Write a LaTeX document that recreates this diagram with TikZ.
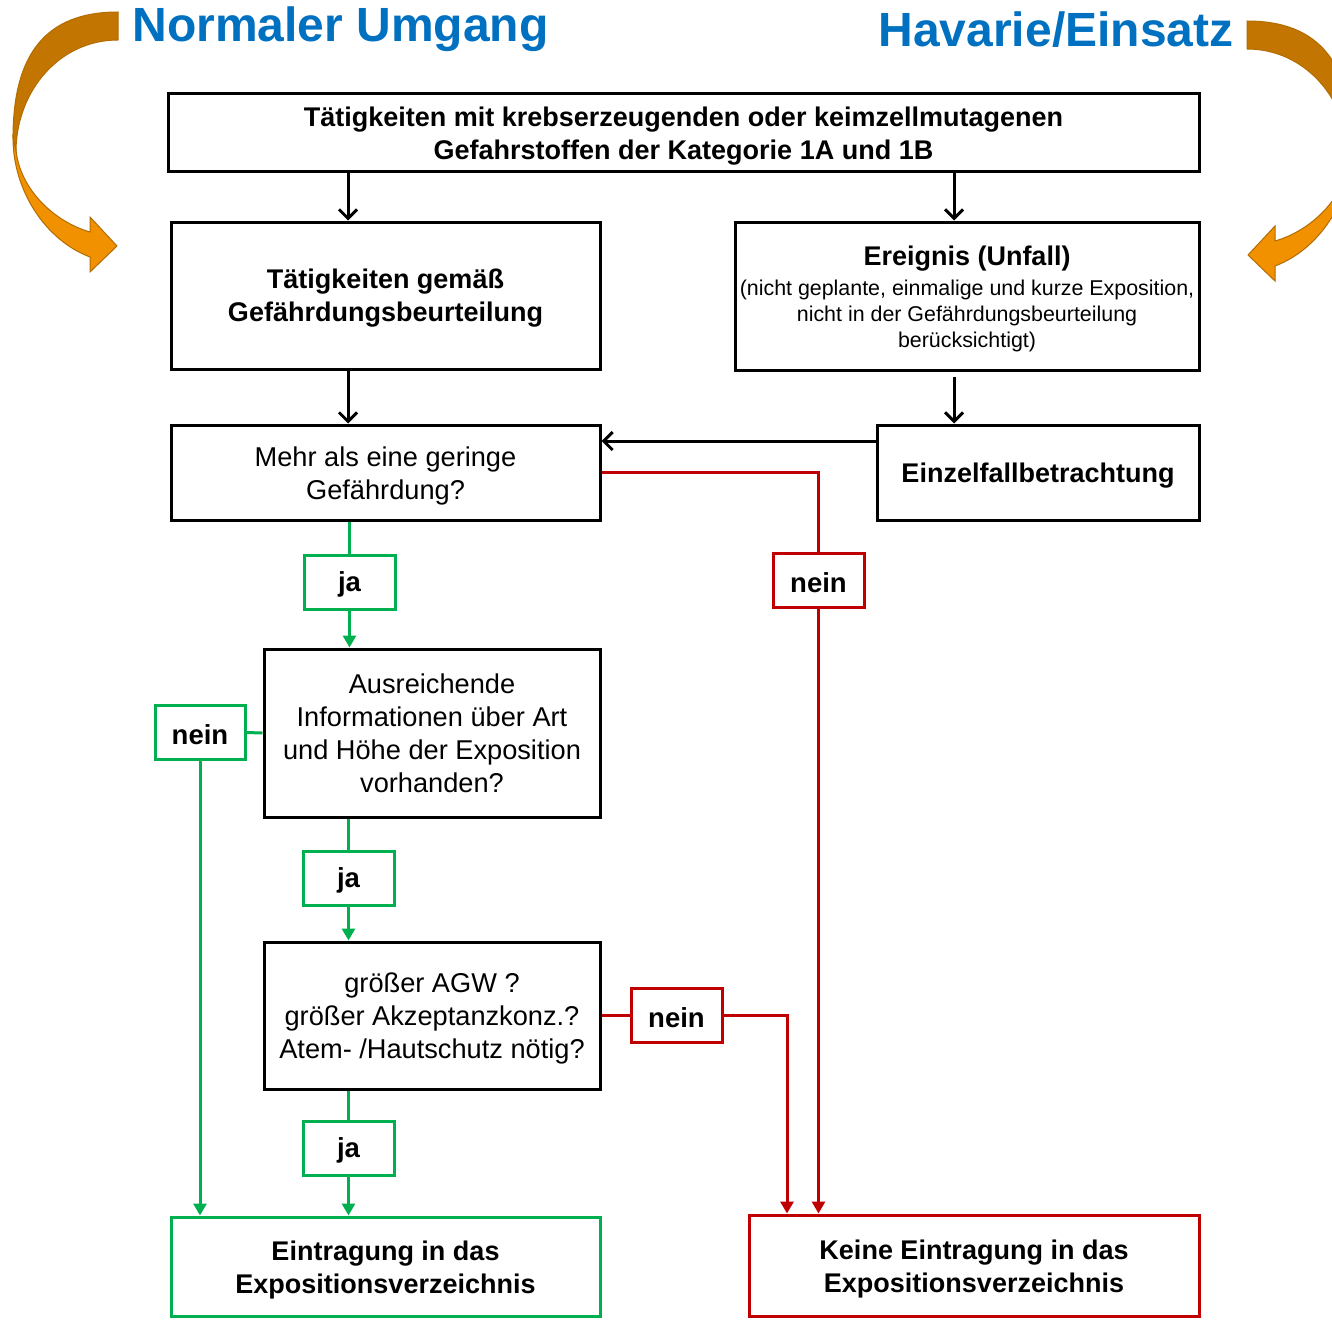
\documentclass[tikz,border=0pt]{standalone}
\usepackage{fontspec}
\setmainfont{Liberation Sans}
\usetikzlibrary{arrows.meta}
\definecolor{tgreen}{HTML}{00B050}
\definecolor{tred}{HTML}{C00000}
\definecolor{tblue}{HTML}{0070C0}
\definecolor{odark}{HTML}{C27500}
\definecolor{olight}{HTML}{F29100}
\definecolor{oline}{HTML}{B36C00}
\newcommand\orangearrowshape{%
    \filldraw[fill=olight, draw=oline, line width=1pt]
      (13,138) .. controls (13,190) and (45,240) .. (90,257) -- (90,272) -- (117,246) -- (90,217) -- (90,232)
      .. controls (55,222) and (20,190) .. (16,150) -- cycle;
    \filldraw[fill=odark, draw=oline, line width=1pt]
      (118,12) -- (118,40) .. controls (60,40) and (17,90) .. (16,150) -- (13,138)
      .. controls (13,55) and (45,12) .. (118,12) -- cycle;
}
% lower content by #1 without changing the reported size
\newcommand\dn[3]{\raisebox{-#1}[\height][\depth]{\parbox{#2}{\centering #3}}}
\tikzset{
  box/.style={draw, line width=3pt, inner sep=0pt, align=center, anchor=center},
  bt/.style={font=\fontsize{27}{33}\selectfont\bfseries},
  rt/.style={font=\fontsize{27.2}{33}\selectfont},
  jabox/.style={box, draw=tgreen, minimum width=91pt, minimum height=54pt, font=\fontsize{27.5}{30}\selectfont\bfseries},
  neinbox/.style={box, draw=tred, minimum width=91pt, minimum height=54pt, font=\fontsize{27.5}{30}\selectfont\bfseries},
  ttl/.style={text=tblue, font=\fontsize{48}{50}\selectfont\bfseries, inner sep=0pt, anchor=base},
  blk/.style={line width=3pt, -{Straight Barb[length=9pt,width=18pt]}},
  gln/.style={line width=3pt, draw=tgreen},
  gar/.style={gln, -{Triangle[length=12pt,width=13pt]}},
  rln/.style={line width=3pt, draw=tred},
  rar/.style={rln, -{Triangle[length=12pt,width=13pt]}}
}
\begin{document}
\begin{tikzpicture}[x=1pt,y=-1pt]
\useasboundingbox (0,0) rectangle (1332,1319);
\clip (0,0) rectangle (1332,1319);
\fill[white] (0,0) rectangle (1332,1319);

% curved arrows
\begin{scope}
\orangearrowshape
\end{scope}
\begin{scope}[shift={(1365,9)}, xscale=-1]
\orangearrowshape
\end{scope}

% titles
\node[ttl] (t1) at (340.5,42) {Normaler Umgang};
\node[ttl] (t2) at (1056,47) {Havarie/Einsatz};

% x-positions
\coordinate (xL) at (348,0);
\coordinate (xR) at (954,0);
\coordinate (xM) at (787,0);
\coordinate (yA) at (0,441);

% boxes
\node[box, bt, minimum width=1031pt, minimum height=77pt] (top) at (683.5,132.5)
  {\dn{4pt}{1000pt}{Tätigkeiten mit krebserzeugenden oder keimzellmutagenen\\Gefahrstoffen der Kategorie 1A und 1B}};
\node[box, bt, minimum width=429pt, minimum height=147pt] (g) at (385.5,295.5)
  {\dn{3pt}{420pt}{Tätigkeiten gemäß\\Gefährdungsbeurteilung}};
\node[box, minimum width=464pt, minimum height=148pt, font=\fontsize{21.4}{26}\selectfont] (ereig) at (967,296)
  {\dn{3pt}{460pt}{{\fontsize{27}{30}\selectfont\bfseries Ereignis (Unfall)}\\[4pt](nicht geplante, einmalige und kurze Exposition,\\nicht in der Gefährdungsbeurteilung\\berücksichtigt)}};
\node[box, rt, minimum width=429pt, minimum height=95pt] (mehr) at (385.5,472.5)
  {\dn{3pt}{420pt}{Mehr als eine geringe\\Gefährdung?}};
\node[box, bt, minimum width=322pt, minimum height=95pt] (einz) at (1038,472.5)
  {\dn{3pt}{310pt}{Einzelfallbetrachtung}};
\node[jabox] (ja1) at (349.5,582) {\dn{2pt}{80pt}{ja}};
\node[neinbox] (nein1) at (818.5,580.5) {\dn{2pt}{80pt}{nein}};
\node[box, rt, minimum width=336pt, minimum height=168pt] (ausr) at (432,733)
  {\dn{0pt}{330pt}{Ausreichende\\Informationen über Art\\und Höhe der Exposition\\vorhanden?}};
\node[jabox, minimum width=90pt] (nein2) at (200,732.5) {\dn{2pt}{80pt}{nein}};
\node[jabox] (ja2) at (348.5,878) {\dn{2pt}{80pt}{ja}};
\node[box, rt, minimum width=336pt, minimum height=147pt] (gr) at (432,1015.5)
  {\dn{3pt}{330pt}{größer AGW ?\\größer Akzeptanzkonz.?\\Atem- /Hautschutz nötig?}};
\node[neinbox] (nein3) at (676.5,1015.5) {\dn{2pt}{80pt}{nein}};
\node[jabox] (ja3) at (348.5,1148.5) {\dn{2pt}{80pt}{ja}};
\node[box, bt, draw=tgreen, minimum width=429pt, minimum height=99pt] (eintr) at (385.5,1266.5)
  {\dn{4pt}{420pt}{Eintragung in das\\Expositionsverzeichnis}};
\node[box, bt, draw=tred, minimum width=450pt, minimum height=101pt] (keine) at (974,1265.5)
  {\dn{4pt}{440pt}{Keine Eintragung in das\\Expositionsverzeichnis}};

% black connectors
\draw[blk] (top.south -| xL) -- (g.north -| xL);
\draw[blk] (top.south -| xR) -- (ereig.north -| xR);
\draw[blk] (g.south -| xL) -- (mehr.north -| xL);
\draw[blk, shorten <=5pt] (ereig.south -| xR) -- (einz.north -| xR);
\draw[blk] (einz.west |- yA) -- (mehr.east |- yA);

% red connectors
\draw[rln] (mehr.east) -| (nein1.north);
\draw[rar] (nein1.south) -- (keine.north -| nein1.south);
\draw[rln] (gr.east) -- (nein3.west);
\draw[rar] (nein3.east) -| (keine.north -| xM);

% green connectors
\draw[gln] (mehr.south -| ja1.north) -- (ja1.north);
\draw[gar] (ja1.south) -- (ausr.north -| ja1.south);
\draw[gln] (ausr.west) -- (nein2.east);
\draw[gar] (nein2.south) -- (eintr.north -| nein2.south);
\draw[gln] (ausr.south -| ja2.north) -- (ja2.north);
\draw[gar] (ja2.south) -- (gr.north -| ja2.south);
\draw[gln] (gr.south -| ja3.north) -- (ja3.north);
\draw[gar] (ja3.south) -- (eintr.north -| ja3.south);
\end{tikzpicture}
\end{document}
